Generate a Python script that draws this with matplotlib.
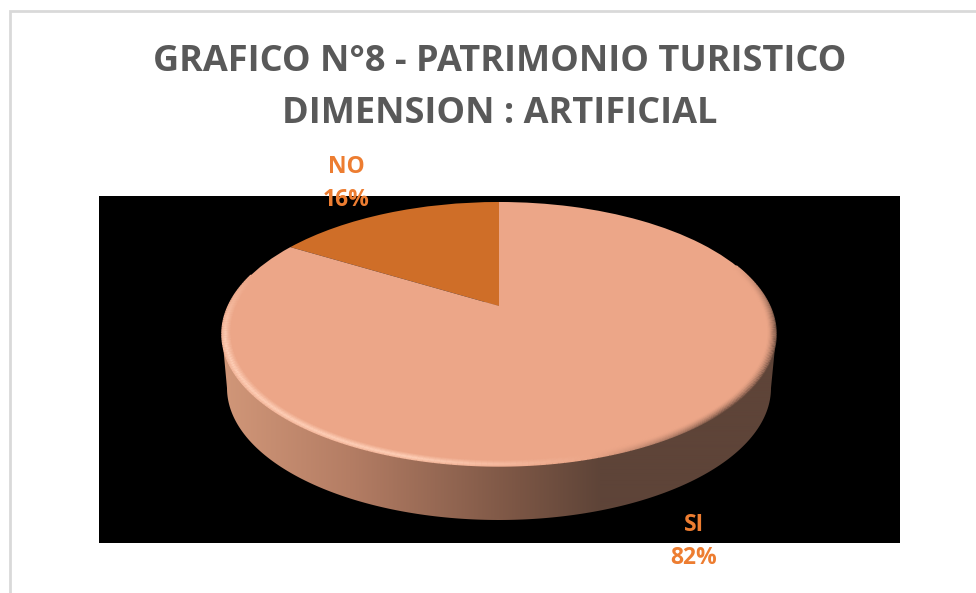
import numpy as np
import matplotlib
matplotlib.use("Agg")
import matplotlib.pyplot as plt
from matplotlib.collections import LineCollection
from matplotlib.patches import Polygon, Rectangle
from matplotlib.transforms import Transform

# Data
labels = ["NO", "SI"]
values = [16, 82]
title_lines = ["GRAFICO N°8 - PATRIMONIO TURISTICO", "DIMENSION : ARTIFICIAL"]

plt.rcParams['font.family'] = ['Open Sans', 'DejaVu Sans']


# unit circle -> tilted disc in pixel coordinates
def tilt(xy):
    xy = np.asarray(xy, dtype=float)
    d = 1 + 0.212 * xy[:, 1]
    return np.column_stack((499 + 270.8 * xy[:, 0] / d,
                            (306 - 61.2 * xy[:, 1]) / d))


class Tilt(Transform):
    input_dims = 2
    output_dims = 2
    is_separable = False
    has_inverse = False

    def transform_non_affine(self, values):
        return tilt(values)


def mix(a, b, t):
    return np.array(a) + (np.array(b) - np.array(a)) * t


fig = plt.figure(figsize=(9.76, 5.93), dpi=100)
ax = fig.add_axes([0, 0, 1, 1])

wedges, _ = ax.pie(values, startangle=90, counterclock=True, radius=1,
                   colors=["#CF6E28", "#ECA688"], wedgeprops={"linewidth": 0})
for w in wedges:
    w.set_transform(Tilt() + ax.transData)
    w.set_zorder(5)

# chart frame and black plot area
ax.add_patch(Rectangle((9.5, 10.5), 1000, 1000, fc="white", ec="#D9D9D9", lw=2, zorder=0))
ax.add_patch(Rectangle((99, 196), 801, 347, fc="black", ec="none", zorder=1))

# side of the disc
ang = np.linspace(np.pi, 2 * np.pi, 200)
low = np.column_stack((499 + 272 * np.cos(ang), 388 - 132 * np.sin(ang)))
body = np.vstack(([[222, 334]], low, [[776, 337], [499, 300]]))
stops_x = [226, 350, 520, 600, 777]
stops_c = np.array([[208, 150, 120], [180, 125, 100], [122, 85, 68], [94, 68, 56], [94, 68, 56]]) / 255
xs = np.arange(222, 778)
grad = np.stack([np.interp(xs, stops_x, stops_c[:, i]) for i in range(3)], axis=-1)[None, :, :]
im = ax.imshow(grad, extent=(222, 778, 530, 300), aspect='auto', zorder=2, interpolation='bilinear')
poly = Polygon(body, closed=True, fc="none", ec="none", transform=ax.transData)
ax.add_patch(poly)
im.set_clip_path(poly)

# bevel round the rim of the top face, lit lower left, dark lower right
t = np.linspace(0, 2 * np.pi, 361)
base = np.array([0xEC, 0xA6, 0x88]) / 255
light = np.array([255, 208, 184]) / 255
dark = np.array([110, 78, 64]) / 255
for s in np.linspace(1.0, 0.968, 9):
    ring = tilt(np.column_stack((s * np.cos(t), s * np.sin(t))))
    segs = np.stack((ring[:-1], ring[1:]), axis=1)
    p = min((1 - s) / 0.032, 1.0)
    lit = np.clip(1 - abs(p - 0.35) / 0.65, 0, 1)
    shade = (1 - p) ** 1.6
    cols = []
    keep = []
    for a, seg in zip(np.degrees(t[:-1]), segs):
        if 165 <= a <= 285:
            w = np.clip(min(a - 165, 285 - a) / 30, 0, 1)
            cols.append(mix(base, light, w * lit))
            keep.append(seg)
        elif a > 285 or a < 20:
            aa = a - 285 if a > 285 else a + 75
            w = np.clip(min(aa, 95 - aa) / 30, 0, 1)
            cols.append(mix(base, dark, w * shade))
            keep.append(seg)
    ax.add_collection(LineCollection(keep, colors=cols, linewidths=1.0, zorder=6))

# titles and labels
ax.text(499.5, 62, title_lines[0], ha="center", va="center", fontsize=26,
        fontweight="bold", color="#595959", zorder=8)
ax.text(499.5, 114, title_lines[1], ha="center", va="center", fontsize=26,
        fontweight="bold", color="#595959", zorder=8)
label_pos = [(346, 167), (694, 525)]
for name, v, (x, y) in zip(labels, values, label_pos):
    ax.text(x, y, name, ha="center", va="center", fontsize=16.5, fontweight="bold",
            color="#ED7D31", zorder=8)
    ax.text(x, y + 33, "{}%".format(v), ha="center", va="center", fontsize=16.5,
            fontweight="bold", color="#ED7D31", zorder=8)

ax.set_aspect('auto')
ax.set_xlim(0, 976)
ax.set_ylim(593, 0)
ax.axis('off')
fig.savefig("out.png", dpi=100, facecolor="white")
